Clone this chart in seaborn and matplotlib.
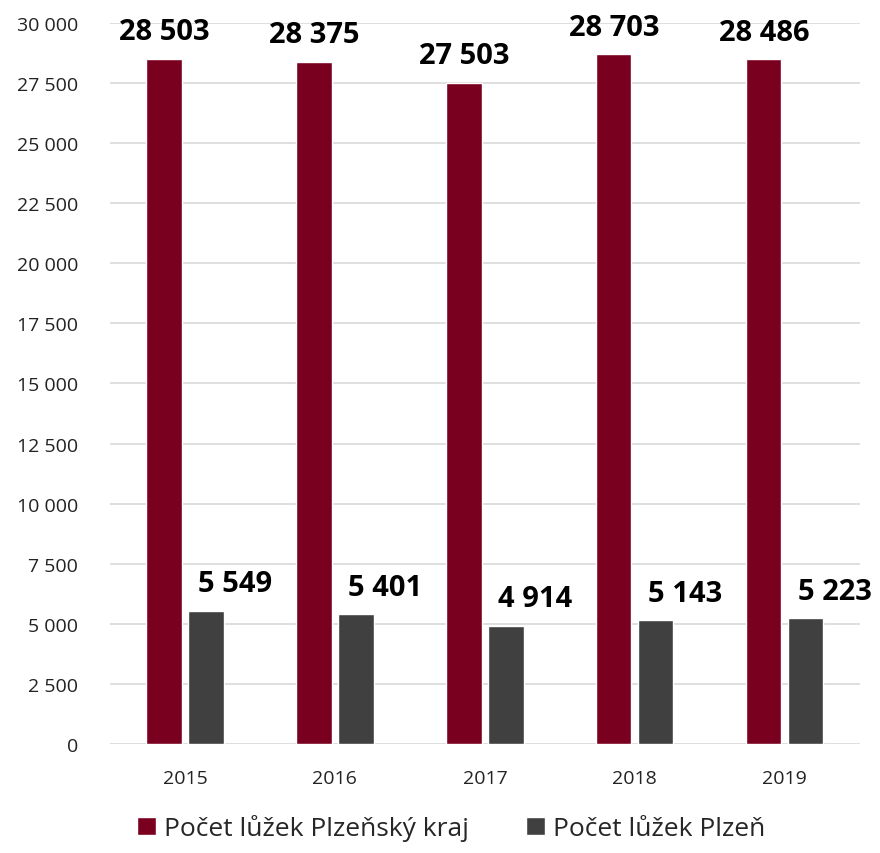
import pandas as pd
import matplotlib.pyplot as plt
import seaborn as sns

years = ["2015", "2016", "2017", "2018", "2019"]
kraj = [28503, 28375, 27503, 28703, 28486]
plzen = [5549, 5401, 4914, 5143, 5223]
series_names = ["Počet lůžek Plzeňský kraj", "Počet lůžek Plzeň"]
colors = ["#7a0020", "#404040"]

df = pd.DataFrame({
    "rok": years * 2,
    "pocet": kraj + plzen,
    "serie": [series_names[0]] * len(years) + [series_names[1]] * len(years),
})

sns.set_style("white")
plt.rcParams["font.family"] = ["Open Sans", "DejaVu Sans"]

fig = plt.figure(figsize=(8.8, 8.54), dpi=100)
ax = fig.add_axes([0.125, 0.1276, 0.852, 0.8444])

sns.barplot(data=df, x="rok", y="pocet", hue="serie", palette=colors,
            width=0.56, gap=0.16, ax=ax, saturation=1)

ax.set_ylim(0, 30000)
ax.set_yticks(range(0, 30001, 2500))
ax.set_yticklabels([f"{v:,}".replace(",", " ") for v in range(0, 30001, 2500)])
ax.yaxis.grid(True, color="#d9d9d9", linewidth=1.2)
ax.set_axisbelow(True)
for s in ax.spines.values():
    s.set_visible(False)
ax.tick_params(axis="both", length=0, labelsize=14, colors="#222222")
ax.tick_params(axis="x", pad=18)
ax.tick_params(axis="y", pad=23)
ax.set_xlabel("")
ax.set_ylabel("")

# popisky hodnot
for i, cont in enumerate(ax.containers):
    for bar, v in zip(cont, [kraj, plzen][i]):
        x = bar.get_x() + bar.get_width() / 2
        dx = 0 if i == 0 else 21
        ax.annotate(f"{v:,}".replace(",", " "), (x, v), xytext=(dx, 9),
                    textcoords="offset points", ha="center", va="bottom",
                    fontsize=21, fontweight="bold", color="black")

ax.legend(loc="upper center", bbox_to_anchor=(0.455, -0.072), ncol=2,
          frameon=False, fontsize=19, handlelength=0.7, handleheight=0.7,
          handletextpad=0.3, columnspacing=2.2, borderpad=0.2)

fig.savefig("out.png", dpi=100)
